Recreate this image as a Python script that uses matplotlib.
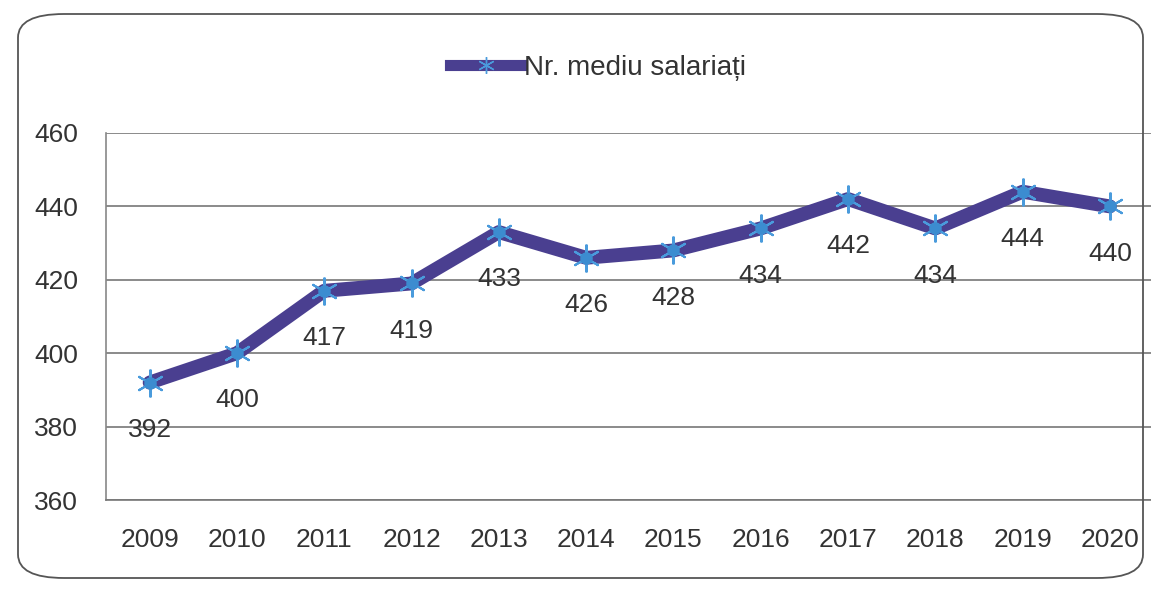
import matplotlib
matplotlib.use("Agg")
import matplotlib.pyplot as plt
from matplotlib.patches import FancyBboxPatch
from matplotlib.lines import Line2D

years = ["2009", "2010", "2011", "2012", "2013", "2014", "2015", "2016", "2017", "2018", "2019", "2020"]
values = [392, 400, 417, 419, 433, 426, 428, 434, 442, 434, 444, 440]
series_name = "Nr. mediu salariați"
yticks = [360, 380, 400, 420, 440, 460]

plt.rcParams['font.family'] = ['Liberation Sans', 'DejaVu Sans']

fig = plt.figure(figsize=(11.51, 5.90), dpi=100)
frame = FancyBboxPatch((18/1151, 12/590), (1143-18)/1151, (576-12)/590,
                       boxstyle="round,pad=0,rounding_size=0.04",
                       transform=fig.transFigure, fill=False,
                       edgecolor="#555555", linewidth=1.3)
fig.patches.append(frame)

ax = fig.add_axes([106/1151, 90/590, 1065/1151, 367/590])
x = list(range(len(years)))
ax.plot(x, values, color="#4A3F90", linewidth=10, solid_capstyle="round", zorder=3)
ax.plot(x, values, linestyle="none", marker=(6, 2, 0), markersize=20,
        markeredgecolor="#4A9BDC", markeredgewidth=1.5, zorder=4)
ax.plot(x, values, linestyle="none", marker="o", markersize=8,
        color="#3C8CD0", zorder=4)

for xi, v in zip(x, values):
    ax.annotate(str(v), (xi, v), xytext=(0, -34), textcoords="offset points",
                ha="center", va="center", fontsize=19, color="#333333", zorder=5)

ax.set_xlim(-0.5, 11.7)
ax.set_ylim(360, 460)
ax.set_yticks(yticks)
ax.set_xticks(x)
ax.set_xticklabels(years)
ax.tick_params(axis="both", length=0, labelsize=19, labelcolor="#333333")
ax.tick_params(axis="y", pad=20)
ax.tick_params(axis="x", pad=20)
ax.grid(axis="y", color="#777777", linewidth=1.2)
for s in ["top", "right"]:
    ax.spines[s].set_visible(False)
ax.spines["left"].set_color("#888888")
ax.spines["bottom"].set_color("#777777")
ax.spines["left"].set_linewidth(1.2)
ax.spines["bottom"].set_linewidth(1.2)
ax.set_axisbelow(True)

handle = Line2D([0], [0], color="#4A3F90", linewidth=8, marker=(6, 2, 0),
                markersize=12, markeredgecolor="#4A9BDC")
fig.legend([handle], [series_name], loc="center", bbox_to_anchor=(598/1151, 1 - 68/590),
           frameon=False, fontsize=20, handlelength=2.6, handletextpad=0.05,
           labelcolor="#333333")

fig.savefig("out.png", dpi=100)
